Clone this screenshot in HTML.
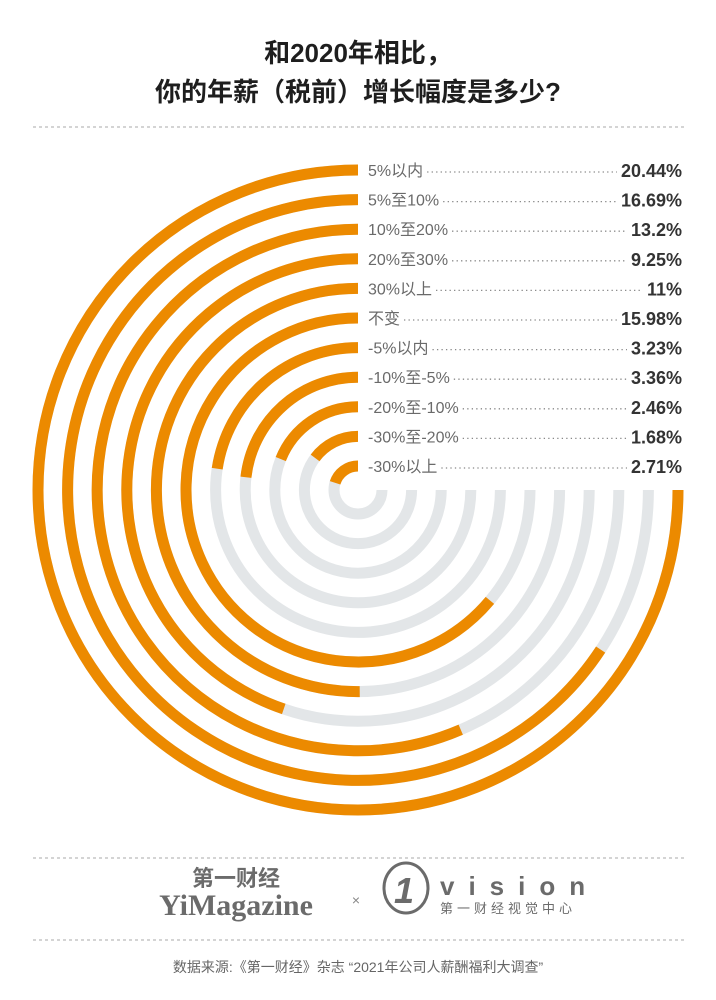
<!DOCTYPE html>
<html><head><meta charset="utf-8"><style>
html,body{margin:0;padding:0;background:#fff;}
svg{display:block;font-family:"Liberation Sans","Noto Sans CJK SC",sans-serif;}
</style></head><body>
<svg width="716" height="1000" viewBox="0 0 716 1000">
<text x="358" y="62" text-anchor="middle" font-size="26" font-weight="bold" fill="#1e1e1e">和2020年相比，</text>
<text x="358" y="101" text-anchor="middle" font-size="26" font-weight="bold" fill="#1e1e1e">你的年薪（税前）增长幅度是多少?</text>
<line x1="33" y1="127" x2="685" y2="127" stroke="#aaa" stroke-width="1" stroke-dasharray="3,3"/>
<g id="rings"></g>
<g id="labels"></g>
<line x1="33" y1="858" x2="685" y2="858" stroke="#aaa" stroke-width="1" stroke-dasharray="3,3"/>
<g fill="#6b6b6b">
<text x="236" y="886" text-anchor="middle" font-size="22" font-weight="bold">第一财经</text>
<text x="236" y="915" text-anchor="middle" font-size="30" font-weight="bold" font-family="Liberation Serif, serif">YiMagazine</text>
</g>
<text x="356" y="905" text-anchor="middle" font-size="14" fill="#888">×</text>
<g fill="#6b6b6b">
<ellipse cx="406" cy="888" rx="22" ry="25" fill="none" stroke="#6b6b6b" stroke-width="3"/>
<text x="404" y="903" text-anchor="middle" font-size="36" font-style="italic" font-weight="bold">1</text>
<text x="440" y="895" font-size="26" font-weight="bold" letter-spacing="14">vision</text>
<text x="440" y="913" font-size="13" letter-spacing="4">第一财经视觉中心</text>
</g>
<line x1="33" y1="940" x2="685" y2="940" stroke="#aaa" stroke-width="1" stroke-dasharray="3,3"/>
<text x="358" y="972" text-anchor="middle" font-size="14" fill="#666">数据来源:《第一财经》杂志 “2021年公司人薪酬福利大调查”</text>
</svg>
<script>
const categories = ["5%以内","5%至10%","10%至20%","20%至30%","30%以上","不变","-5%以内","-10%至-5%","-20%至-10%","-30%至-20%","-30%以上"];
const values = [20.44,16.69,13.2,9.25,11,15.98,3.23,3.36,2.46,1.68,2.71];
const valueLabels = ["20.44%","16.69%","13.2%","9.25%","11%","15.98%","3.23%","3.36%","2.46%","1.68%","2.71%"];
const NS="http://www.w3.org/2000/svg";
const cx=358, cy=490, r0=320, step=29.6, maxAngle=270, expo=0.65;
const maxV=Math.max(...values);
function angleScale(v){return Math.pow(v/maxV,expo)*maxAngle;}
function radiusScale(i){return r0-i*step;}
function pt(r,a){const t=a*Math.PI/180;return [cx-r*Math.sin(t), cy-r*Math.cos(t)];}
function arcPath(r,a){
  const [x0,y0]=pt(r,0),[x1,y1]=pt(r,a);
  return `M${x0},${y0} A${r},${r} 0 ${a>180?1:0} 0 ${x1},${y1}`;
}
const rings=document.getElementById('rings');
const labels=document.getElementById('labels');
values.forEach((v,i)=>{
  const r=radiusScale(i);
  const track=document.createElementNS(NS,'path');
  track.setAttribute('d',arcPath(r,maxAngle));
  track.setAttribute('fill','none');track.setAttribute('stroke','#e3e6e8');track.setAttribute('stroke-width','11');
  
  
  rings.appendChild(track);
  const bar=document.createElementNS(NS,'path');
  bar.setAttribute('d',arcPath(r,angleScale(v)));
  bar.setAttribute('fill','none');bar.setAttribute('stroke','#ec8a00');bar.setAttribute('stroke-width','11');
  
  
  rings.appendChild(bar);
  const y=cy-r;
  const lab=document.createElementNS(NS,'text');
  lab.setAttribute('x','368');lab.setAttribute('y',y+6);
  lab.setAttribute('font-size','16');lab.setAttribute('fill','#6a6a6a');
  lab.setAttribute('font-family','"Liberation Sans Narrow","Liberation Sans","Noto Sans CJK SC",sans-serif');
  lab.textContent=categories[i];
  
  
  labels.appendChild(lab);
  const val=document.createElementNS(NS,'text');
  val.setAttribute('x','682');val.setAttribute('y',y+7);val.setAttribute('text-anchor','end');
  val.setAttribute('font-size','18');val.setAttribute('font-weight','bold');val.setAttribute('fill','#333');
  val.setAttribute('font-family','"Liberation Sans Narrow","Liberation Sans",sans-serif');
  val.textContent=valueLabels[i];
  
  
  labels.appendChild(val);
  const lw=lab.getComputedTextLength(), vw=val.getComputedTextLength();
  const ld=document.createElementNS(NS,'line');
  ld.setAttribute('x1',368+lw+4);ld.setAttribute('x2',682-vw-4);
  ld.setAttribute('y1',y+2);ld.setAttribute('y2',y+2);
  ld.setAttribute('stroke','#888');ld.setAttribute('stroke-width','1.3');ld.setAttribute('stroke-dasharray','1.3,3.2');
  
  
  labels.appendChild(ld);
});
</script>
</body></html>
